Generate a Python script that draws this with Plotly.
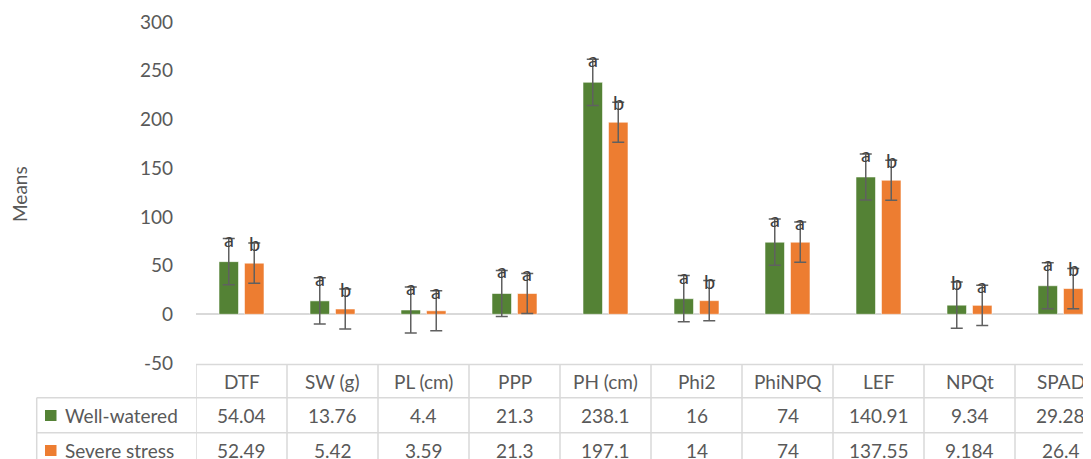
import plotly.graph_objects as go

categories = ["DTF", "SW (g)", "PL (cm)", "PPP", "PH (cm)", "Phi2", "PhiNPQ", "LEF", "NPQt", "SPAD"]
well_watered = [54.04, 13.76, 4.4, 21.3, 238.1, 16, 74, 140.91, 9.34, 29.28]
severe_stress = [52.49, 5.42, 3.59, 21.3, 197.1, 14, 74, 137.55, 9.184, 26.4]
well_err = [23.7, 23.7, 23.7, 23.7, 23.7, 23.7, 23.7, 23.7, 23.7, 23.7]
severe_err = [20.6, 20.6, 20.6, 20.6, 20.6, 20.6, 20.6, 20.6, 20.6, 20.6]
well_letters = ["a", "a", "a", "a", "a", "a", "a", "a", "b", "a"]
severe_letters = ["b", "b", "a", "a", "b", "b", "a", "b", "a", "b"]
series_names = ["Well-watered", "Severe stress"]
y_ticks = [-50, 0, 50, 100, 150, 200, 250, 300]
y_tick_labels = ["-50", "0", "50", "100", "150", "200", "250", "300"]

GREEN = "#548235"
ORANGE = "#ED7D31"
TXT = "#595959"
GRID = "#D9D9D9"
FONT = "Lato"

OFF = 8  # page body margin
WIN_W = 1091
W = WIN_W - OFF
PLOT_L, PLOT_T, PLOT_B = 196, 22, 363  # window pixels
FIG_BOTTOM = 470                        # window pixel where the figure ends
H = FIG_BOTTOM - OFF
ML = PLOT_L - OFF
MT = PLOT_T - OFF
MB = FIG_BOTTOM - PLOT_B
MR = 0
pw = W - ML - MR
ph = H - MT - MB

def px_y(p):  # window pixel row -> paper y
    return (PLOT_B - p) / ph

def px_x(q):  # window pixel col -> paper x
    return (q - PLOT_L) / pw

xs = list(range(len(categories)))
x_right = -0.5 + pw / 91.0

fig = go.Figure()
for name, vals, errs, col in [(series_names[0], well_watered, well_err, GREEN),
                              (series_names[1], severe_stress, severe_err, ORANGE)]:
    fig.add_trace(go.Bar(
        x=xs, y=vals, name=name,
        marker=dict(color=col, line=dict(color="rgba(255,255,255,0.55)", width=1)),
        error_y=dict(type="data", array=errs, visible=True, color="#606060", thickness=1.5, width=6),
        offsetgroup=name,
    ))

annotations = []
slot = 0.28
for i in xs:
    for vals, errs, letters, off in [(well_watered, well_err, well_letters, -1),
                                     (severe_stress, severe_err, severe_letters, 1)]:
        annotations.append(dict(
            x=i + off * slot / 2, y=vals[i] + errs[i], xref="x", yref="y",
            text=letters[i], showarrow=False, yanchor="middle", xanchor="center",
            font=dict(family=FONT, size=20, color="#404040"),
        ))

for i, c in enumerate(categories):
    annotations.append(dict(x=i, y=px_y(381), xref="x", yref="paper", text=c, showarrow=False,
                            xanchor="center", yanchor="middle", font=dict(family=FONT, size=19, color=TXT)))
    annotations.append(dict(x=i, y=px_y(415.5), xref="x", yref="paper", text=f"{well_watered[i]:g}",
                            showarrow=False, xanchor="center", yanchor="middle",
                            font=dict(family=FONT, size=19, color=TXT)))
    annotations.append(dict(x=i, y=px_y(450.5), xref="x", yref="paper", text=f"{severe_stress[i]:g}",
                            showarrow=False, xanchor="center", yanchor="middle",
                            font=dict(family=FONT, size=19, color=TXT)))

for name, yc in [(series_names[0], 415.5), (series_names[1], 450.5)]:
    annotations.append(dict(x=px_x(63), y=px_y(yc), xref="paper", yref="paper", text=name,
                            showarrow=False, xanchor="left", yanchor="middle",
                            font=dict(family=FONT, size=19, color=TXT)))

annotations.append(dict(x=px_x(19), y=px_y(194), xref="paper", yref="paper", text="Means",
                        textangle=-90, showarrow=False, xanchor="center", yanchor="middle",
                        font=dict(family=FONT, size=19, color=TXT)))

shapes = []
line = dict(color=GRID, width=1.5)
shapes.append(dict(type="line", xref="paper", yref="paper", x0=0, x1=1, y0=px_y(364.5), y1=px_y(364.5), line=line))
for p in [397.7, 432.7]:
    shapes.append(dict(type="line", xref="paper", yref="paper", x0=px_x(36.7), x1=1, y0=px_y(p), y1=px_y(p), line=line))
shapes.append(dict(type="line", xref="paper", yref="paper", x0=px_x(36.7), x1=px_x(36.7),
                   y0=px_y(397.7), y1=px_y(470), line=line))
for i in range(len(categories)):
    shapes.append(dict(type="line", xref="x", yref="paper", x0=i - 0.5, x1=i - 0.5,
                       y0=px_y(364.5), y1=px_y(470), line=line))
for col, yc in [(GREEN, 415.5), (ORANGE, 450.5)]:
    shapes.append(dict(type="rect", xref="paper", yref="paper", x0=px_x(45), x1=px_x(56.5),
                       y0=px_y(yc - 5.5), y1=px_y(yc + 5.5), line=dict(width=0), fillcolor=col))

fig.update_layout(
    width=W, height=H,
    margin=dict(l=ML, r=MR, t=MT, b=MB, pad=0),
    paper_bgcolor="white", plot_bgcolor="white",
    barmode="group", bargap=0.44, bargroupgap=0.235,
    showlegend=False,
    font=dict(family=FONT, color=TXT),
    annotations=annotations, shapes=shapes,
    xaxis=dict(range=[-0.5, x_right], showticklabels=False, showgrid=False, zeroline=False,
               showline=False, ticks="", fixedrange=True),
    yaxis=dict(range=[-50, 300], tickvals=y_ticks, ticktext=y_tick_labels, showgrid=False,
               zeroline=True, zerolinecolor=GRID, zerolinewidth=1.5, showline=False, ticks="",
               ticklabelstandoff=22, tickfont=dict(family=FONT, size=19, color=TXT)),
)

fig.write_html("out.html")
